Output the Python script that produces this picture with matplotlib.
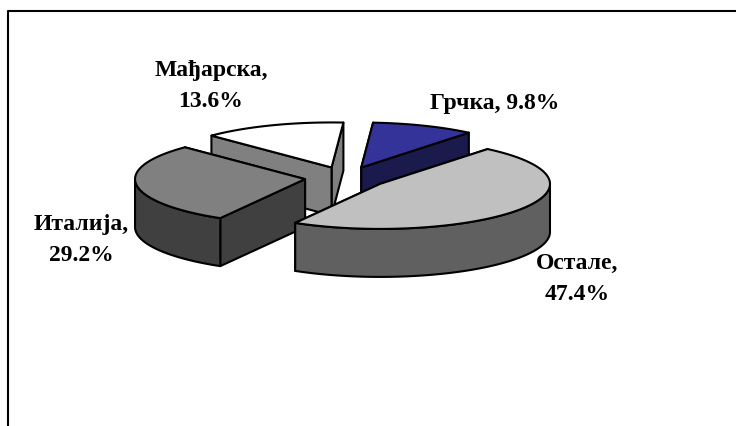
import matplotlib
matplotlib.use('Agg')
import matplotlib.pyplot as plt
import numpy as np
from matplotlib.patches import Polygon

# Удео земаља, редослед као у дијаграму (у смеру казаљке од врха)
zemlje = ['Грчка', 'Остале', 'Италија', 'Мађарска']
udeo = [9.8, 47.4, 29.2, 13.6]
boje_vrh = ['#333399', '#c0c0c0', '#808080', '#ffffff']
boje_strana = ['#1a1a4d', '#606060', '#404040', '#808080']
natpisi = ['Грчка, 9.8%', 'Остале,\n47.4%', 'Италија,\n29.2%', 'Мађарска,\n13.6%']
natpis_xy = [(495, 104), (577, 279), (81, 240), (211, 86)]

# geometrija pite u pikselima
CX, CY = 346, 178.7
A, B = 170, 45
VISINA = 48
EKSPLOZIJA = 0.243
START = 86

fig = plt.figure(figsize=(7.36, 4.27), dpi=100)
ax = fig.add_axes([0, 0, 1, 1])
ax.set_xlim(0, 736)
ax.set_ylim(427, 0)
ax.axis('off')


def rub(ugao, cx, cy):
    t = np.radians(ugao)
    return np.column_stack([cx + A * np.cos(t), cy - B * np.sin(t)])


def povrsina(tacke, boja, z):
    ax.add_patch(Polygon(tacke, closed=True, facecolor=boja, edgecolor='black',
                         linewidth=1.5, joinstyle='round', zorder=z))


def zid(gornja, boja, z):
    donja = gornja[::-1] + [0, VISINA]
    povrsina(np.vstack([gornja, donja]), boja, z)


krajevi = START - np.cumsum(udeo) * 3.6
pocetci = krajevi + np.array(udeo) * 3.6

# redosled crtanja: prvo zadnje kriske
for z, i in enumerate([0, 3, 2, 1]):
    a0, a1 = pocetci[i], krajevi[i]
    sred = np.radians((a0 + a1) / 2)
    cx = CX + EKSPLOZIJA * A * np.cos(sred)
    cy = CY - EKSPLOZIJA * B * np.sin(sred)
    centar = np.array([[cx, cy]])
    uglovi = np.linspace(a0, a1, 120)
    luk = rub(uglovi, cx, cy)

    # radijalni zidovi, prvo onaj koji je dalje od posmatraca
    kraj1, kraj2 = luk[:1], luk[-1:]
    if kraj1[0, 1] > kraj2[0, 1]:
        kraj1, kraj2 = kraj2, kraj1
    zid(np.vstack([centar, kraj1]), boje_strana[i], z * 10 + 1)
    zid(np.vstack([centar, kraj2]), boje_strana[i], z * 10 + 2)
    # spoljni zid, samo prednji deo
    prednji = np.sin(np.radians(uglovi)) <= 0
    if prednji.sum() > 1:
        zid(luk[prednji], boje_strana[i], z * 10 + 3)
    # vrh kriske
    povrsina(np.vstack([centar, luk]), boje_vrh[i], z * 10 + 4)

for tekst, (x, y) in zip(natpisi, natpis_xy):
    ax.text(x, y, tekst, family='Liberation Serif', fontweight='bold', fontsize=17,
            ha='center', va='center', linespacing=1.6, zorder=100)

# okvir dijagrama (samo levo i gore)
ax.plot([8, 8, 736], [428, 12, 12], color='black', lw=1.5, zorder=101)

fig.savefig('out.png', dpi=100)
